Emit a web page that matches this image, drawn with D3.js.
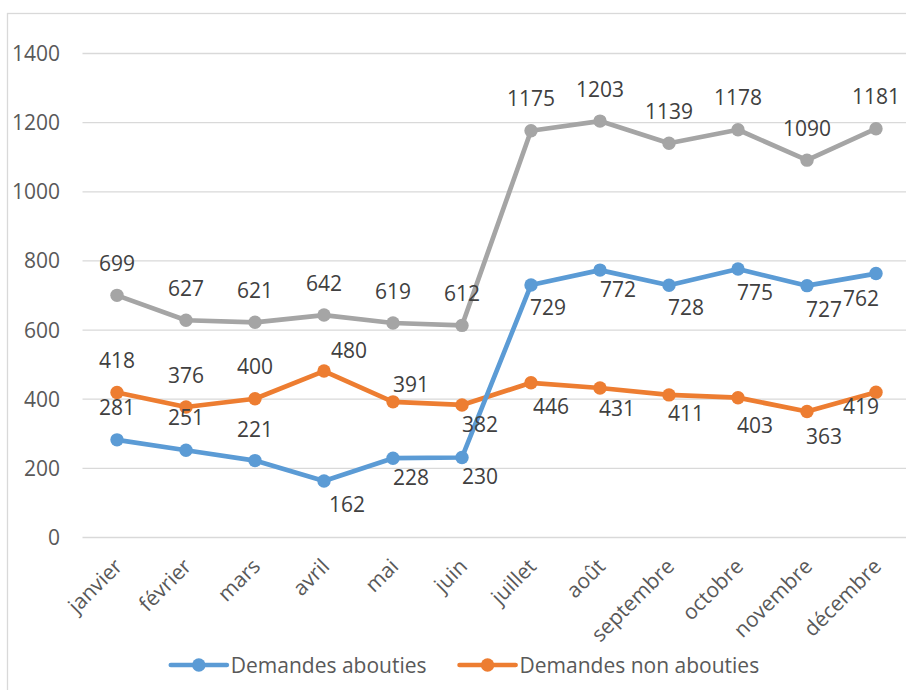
<!DOCTYPE html>
<html>
<head>
<meta charset="utf-8">
<script src="https://cdn.jsdelivr.net/npm/d3@7"></script>
<style>
  body { margin: 0; background: #fff; }
  svg { display: block; font-family: "Open Sans", Lato, sans-serif; }
</style>
</head>
<body>
<svg id="chart" width="906" height="690"></svg>
<script>
// chart data
const months = ["janvier", "février", "mars", "avril", "mai", "juin",
    "juillet", "août", "septembre", "octobre", "novembre", "décembre"];
const abouties = [281, 251, 221, 162, 228, 230, 729, 772, 728, 775, 727, 762];
const nonAbouties = [418, 376, 400, 480, 391, 382, 446, 431, 411, 403, 363, 419];
const totalDemandes = [699, 627, 621, 642, 619, 612, 1175, 1203, 1139, 1178, 1090, 1181];
const yTicks = [0, 200, 400, 600, 800, 1000, 1200, 1400];

// label offsets (px from the point, text centre) - moved by hand in the original
const aboutiesDx = [0, 0, 0, 23, 18, 18, 17, 18, 17, 17, 17, -15];
const aboutiesDy = [-32, -33, -31, 23, 19, 19, 22, 19, 22, 23, 24, 25];
const nonAboutiesDx = [0, 0, 0, 25, 18, 18, 20, 17, 17, 17, 17, -15];
const nonAboutiesDy = [-32, -32, -32, -21, -17, 20, 24, 20, 19, 28, 25, 14];
const totalDx = months.map(() => 0);
const totalDy = months.map(() => -32);

const series = [
    { name: "Total", values: totalDemandes, color: "#A5A5A5", dx: totalDx, dy: totalDy, legend: false },
    { name: "Demandes non abouties", values: nonAbouties, color: "#ED7D31", dx: nonAboutiesDx, dy: nonAboutiesDy, legend: true },
    { name: "Demandes abouties", values: abouties, color: "#5B9BD5", dx: aboutiesDx, dy: aboutiesDy, legend: true }
];

const fontSize = "21px";
const svg = d3.select("#chart");

// chart area border (runs off the right and bottom edge)
svg.append("rect")
    .attr("x", 7.5)
    .attr("y", 13.5)
    .attr("width", 960)
    .attr("height", 760)
    .attr("fill", "#fff")
    .attr("stroke", "#D9D9D9")
    .attr("stroke-width", 1.3);

const x = d3.scaleBand()
    .domain(months)
    .range([82.5, 910.5]);

const y = d3.scaleLinear()
    .domain([0, 1400])
    .range([537, 53]);

const cx = m => x(m) + x.bandwidth() / 2;

// gridlines + y labels
const yAxis = svg.append("g")
    .call(d3.axisLeft(y).tickValues(yTicks).tickFormat(d3.format("d")).tickSize(0).tickPadding(0));
yAxis.select(".domain").remove();
yAxis.selectAll(".tick line")
    .attr("x1", 82.5)
    .attr("x2", 910.5)
    .attr("stroke", "#D9D9D9")
    .attr("stroke-width", 1.3);
yAxis.selectAll(".tick text")
    .attr("x", 60)
    .attr("dy", "0.36em")
    .attr("fill", "#595959")
    .style("font-size", fontSize)
    .style("font-family", "'Open Sans', sans-serif");

// x labels, rotated
const xAxis = svg.append("g")
    .attr("transform", "translate(0,537)")
    .call(d3.axisBottom(x).tickSize(0));
xAxis.select(".domain").remove();
xAxis.selectAll(".tick text")
    .attr("y", 0)
    .attr("dy", 0)
    .attr("text-anchor", "end")
    .attr("dominant-baseline", "central")
    .attr("transform", "translate(1,25) rotate(-45)")
    .attr("fill", "#595959")
    .style("font-size", fontSize)
    .style("font-family", "'Open Sans', sans-serif");

const line = d3.line()
    .x((d, i) => cx(months[i]))
    .y(d => y(d));

series.forEach(s => {
    const g = svg.append("g");
    g.append("path")
        .datum(s.values)
        .attr("fill", "none")
        .attr("stroke", s.color)
        .attr("stroke-width", 4.7)
        .attr("stroke-linejoin", "round")
        .attr("stroke-linecap", "round")
        .attr("d", line);
    g.selectAll("circle")
        .data(s.values)
        .enter().append("circle")
        .attr("cx", (d, i) => cx(months[i]))
        .attr("cy", d => y(d))
        .attr("r", 6.7)
        .attr("fill", s.color);
});

// data labels on top of everything
series.forEach(s => {
    svg.append("g").selectAll("text")
        .data(s.values)
        .enter().append("text")
        .attr("x", (d, i) => cx(months[i]) + s.dx[i])
        .attr("y", (d, i) => y(d) + s.dy[i])
        .attr("dy", "0.36em")
        .attr("text-anchor", "middle")
        .attr("fill", "#404040")
        .style("font-size", fontSize)
        .text(d => d);
});

// legend
const legendItems = series.filter(s => s.legend).reverse();
const legend = svg.append("g").attr("transform", "translate(0,665)");
let lx = 0;
const lg = legend.append("g");
legendItems.forEach((s, i) => {
    const item = lg.append("g").attr("transform", `translate(${lx},0)`);
    item.append("line")
        .attr("x1", 0).attr("x2", 56)
        .attr("stroke", s.color)
        .attr("stroke-width", 4.7)
        .attr("stroke-linecap", "round");
    item.append("circle")
        .attr("cx", 28)
        .attr("r", 6.7)
        .attr("fill", s.color);
    const t = item.append("text")
        .attr("x", 60)
        .attr("dy", "0.36em")
        .attr("fill", "#595959")
        .style("font-size", fontSize)
        .text(s.name);
    lx += 60 + t.node().getComputedTextLength() + 33;
});
const legendWidth = lx - 33;
lg.attr("transform", `translate(${465 - legendWidth / 2},0)`);
</script>
</body>
</html>
